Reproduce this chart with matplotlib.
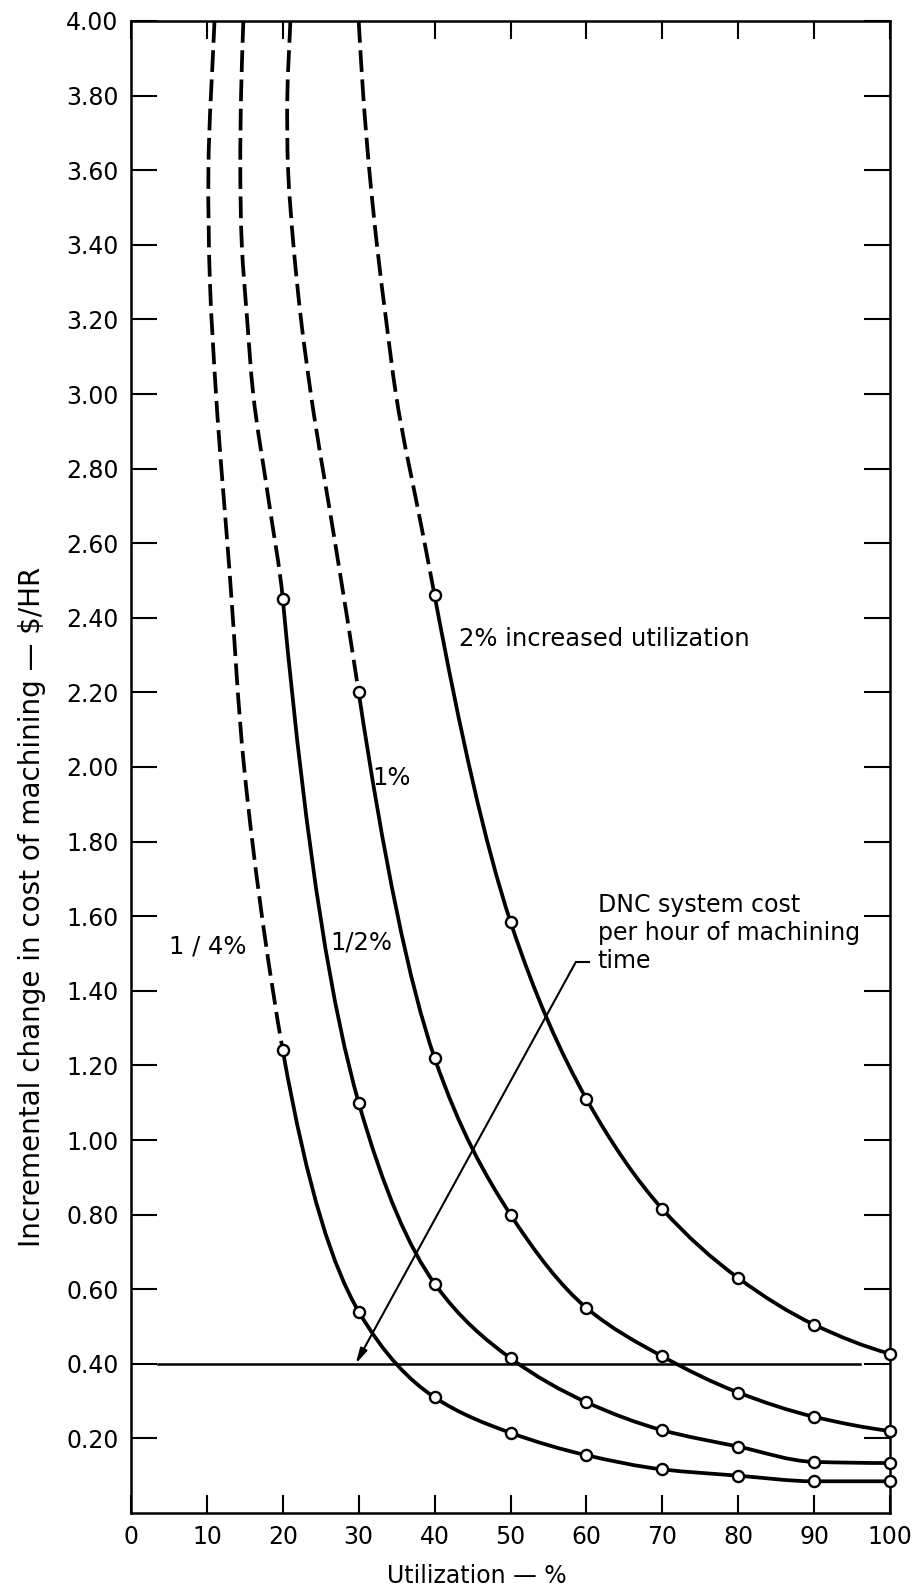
import numpy as np
import matplotlib
matplotlib.use('Agg')
import matplotlib.pyplot as plt
from matplotlib.path import Path
from matplotlib.patches import PathPatch

# Utilization (%) and incremental cost ($/HR) at the circled points
util_quarter = [20, 30, 40, 50, 60, 70, 80, 90, 100]
cost_quarter = [1.24, 0.54, 0.31, 0.215, 0.155, 0.117, 0.100, 0.085, 0.085]
util_half = [20, 30, 40, 50, 60, 70, 80, 90, 100]
cost_half = [2.45, 1.10, 0.615, 0.415, 0.297, 0.222, 0.178, 0.137, 0.134]
util_one = [30, 40, 50, 60, 70, 80, 90, 100]
cost_one = [2.20, 1.22, 0.80, 0.55, 0.42, 0.323, 0.258, 0.22]
util_two = [40, 50, 60, 70, 80, 90, 100]
cost_two = [2.46, 1.585, 1.11, 0.815, 0.63, 0.505, 0.427]

# dashed (extrapolated) parts, top end first
dash_quarter_x = [11.0, 10.2, 10.4, 11.2, 13.0, 14.9, 17.6]
dash_quarter_y = [4.0, 3.6, 3.3, 3.0, 2.52, 2.0, 1.55]
dash_half_x = [14.8, 14.5, 14.4, 14.6, 15.3, 16.1, 18.1]
dash_half_y = [4.0, 3.8, 3.6, 3.4, 3.2, 3.0, 2.72]
dash_one_x = [21.0, 20.6, 20.7, 21.4, 22.4, 23.7, 26.9]
dash_one_y = [4.0, 3.8, 3.6, 3.4, 3.2, 3.0, 2.60]
dash_two_x = [30.0, 30.6, 31.4, 32.4, 33.6, 34.9, 38.5]
dash_two_y = [4.0, 3.8, 3.6, 3.4, 3.2, 3.0, 2.62]

# DNC system cost per hour of machining time
dnc_cost = 0.40
dnc_x = [3.5, 96]

x_ticks = list(range(0, 101, 10))
y_ticks = [round(0.2 * i, 2) for i in range(1, 21)]

W, H = 914, 1592
fig = plt.figure(figsize=(W / 100, H / 100), dpi=100, facecolor='white')
ax = fig.add_axes([131 / W, 1 - 1513 / H, 759 / W, 1492 / H])
ax.set_xlim(0, 100)
ax.set_ylim(0, 4)


def hermite_path(a, b, ma, mb, swap=False):
    # cubic bezier through (a, b) with slopes db/da = m; swap puts b on the x axis
    verts = [(a[0], b[0])]
    codes = [Path.MOVETO]
    for i in range(len(a) - 1):
        h = a[i + 1] - a[i]
        verts += [(a[i] + h / 3, b[i] + ma[i] * h / 3),
                  (a[i + 1] - h / 3, b[i + 1] - mb[i + 1] * h / 3),
                  (a[i + 1], b[i + 1])]
        codes += [Path.CURVE4] * 3
    v = np.array(verts)
    if swap:
        v = v[:, ::-1]
    return Path(v, codes)


def curve_paths(dx, dy, ux, uy):
    ux = np.array(ux, float)
    uy = np.array(uy, float)
    d = np.diff(uy) / np.diff(ux)
    m = np.zeros(len(ux))
    for i in range(1, len(ux) - 1):
        if d[i - 1] * d[i] > 0:
            m[i] = 2 / (1 / d[i - 1] + 1 / d[i])
    end = (3 * d[-1] - d[-2]) / 2
    m[-1] = end if end * d[-1] > 0 else 0.0
    # slope at the first circle, from the local steepness of the first two points
    k = np.log(uy[0] / uy[1]) / np.log(ux[1] / ux[0])
    m[0] = -0.9 * k * uy[0] / ux[0]
    solid = hermite_path(ux, uy, m, m)

    # dashed part: x as a function of y, running down to the first circle
    yy = np.array(list(dy) + [uy[0]])
    xx = np.array(list(dx) + [ux[0]])
    g = np.diff(xx) / np.diff(yy)
    hy = np.abs(np.diff(yy))
    s = np.zeros(len(yy))
    s[0] = g[0]
    for i in range(1, len(yy) - 1):
        s[i] = (hy[i] * g[i - 1] + hy[i - 1] * g[i]) / (hy[i - 1] + hy[i])
    s[-1] = 1 / m[0]
    dashed = hermite_path(yy, xx, s, s, swap=True)
    return dashed, solid


curves = [
    (dash_quarter_x, dash_quarter_y, util_quarter, cost_quarter),
    (dash_half_x, dash_half_y, util_half, cost_half),
    (dash_one_x, dash_one_y, util_one, cost_one),
    (dash_two_x, dash_two_y, util_two, cost_two),
]

for dx, dy, ux, uy in curves:
    dashed, solid = curve_paths(dx, dy, ux, uy)
    ax.add_patch(PathPatch(dashed, fill=False, lw=2.7, ec='black',
                           linestyle=(0, (5.8, 2.0)), capstyle='butt', zorder=3))
    ax.add_patch(PathPatch(solid, fill=False, lw=2.7, ec='black', zorder=3))
    ax.plot(ux, uy, 'o', ms=8, mfc='white', mec='black', mew=1.7, zorder=5, clip_on=False)

# DNC cost line
ax.plot(dnc_x, [dnc_cost, dnc_cost], color='black', lw=1.8, zorder=2)

# leader from the DNC note down to the cost line
ax.plot([60.3, 58.6], [1.477, 1.477], color='black', lw=1.5)
ax.annotate('', xy=(29.6, dnc_cost), xytext=(58.6, 1.477),
            arrowprops=dict(arrowstyle='-|>,head_length=0.9,head_width=0.22',
                            color='black', lw=1.5, shrinkA=0, shrinkB=0))

# curve labels
ax.text(43.2, 2.343, '2% increased utilization', fontsize=17.5, va='center', ha='left')
ax.text(31.8, 1.97, '1%', fontsize=17.5, va='center', ha='left')
ax.text(5.0, 1.52, '1 / 4%', fontsize=17.5, va='center', ha='left')
ax.text(26.2, 1.53, '1/2%', fontsize=17.5, va='center', ha='left')
ax.text(61.5, 1.555, 'DNC system cost\nper hour of machining\ntime', fontsize=17,
        va='center', ha='left', linespacing=1.2)

ax.set_xticks(x_ticks)
ax.set_xticklabels([str(v) for v in x_ticks])
ax.set_yticks(y_ticks)
ax.set_yticklabels([f'{v:.2f}' for v in y_ticks])

ax.tick_params(axis='y', direction='in', left=True, right=True, length=19, width=1.5,
               labelsize=17, pad=9)
ax.tick_params(axis='x', direction='in', bottom=True, top=True, length=13, width=1.5,
               labelsize=17, pad=9)
for s in ax.spines.values():
    s.set_linewidth(1.8)

ax.set_xlabel('Utilization \u2014 %', fontsize=17)
ax.xaxis.set_label_coords(0.456, -0.034)
ax.set_ylabel('Incremental change in cost of machining \u2014 $/HR', fontsize=20, va='center')
ax.yaxis.set_label_coords(-0.13, 0.406)

plt.savefig('out.png', dpi=100, facecolor='white')
plt.close(fig)
